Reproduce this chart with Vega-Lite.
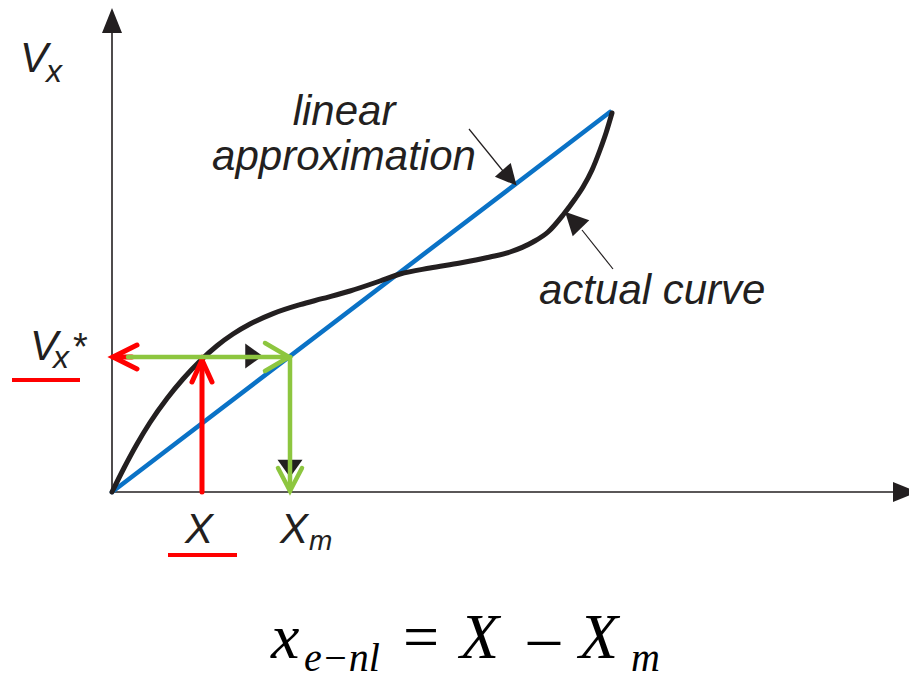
{
  "$schema": "https://vega.github.io/schema/vega-lite/v6.json",
  "width": 909,
  "height": 679,
  "padding": 0,
  "autosize": {"type": "none"},
  "background": "white",
  "config": {"view": {"stroke": null}},
  "datasets": {
    "axes": [
      {"seg": "y", "i": 0, "x": 0, "y": 0}, {"seg": "y", "i": 1, "x": 0, "y": 459},
      {"seg": "x", "i": 0, "x": 0, "y": 0}, {"seg": "x", "i": 1, "x": 783, "y": 0}
    ],
    "heads": [
      {"name": "yaxis", "x": 0, "y": 471.5},
      {"name": "xaxis", "x": 793.5, "y": 0},
      {"name": "linear", "x": 397.7, "y": 314.3},
      {"name": "actual", "x": 461, "y": 272},
      {"name": "hidden_right", "x": 142, "y": 136},
      {"name": "hidden_down", "x": 178, "y": 23.5}
    ],
    "linear": [
      {"x": 0, "y": 0}, {"x": 498, "y": 380}
    ],
    "curve": [
      {"x": 0, "y": 0}, {"x": 12, "y": 24}, {"x": 25, "y": 48}, {"x": 38, "y": 69.5},
      {"x": 55, "y": 93.5}, {"x": 71, "y": 113}, {"x": 88, "y": 131}, {"x": 105, "y": 146.3},
      {"x": 121, "y": 158}, {"x": 138, "y": 168}, {"x": 161, "y": 178.4}, {"x": 188, "y": 187.3},
      {"x": 210, "y": 193.3}, {"x": 238, "y": 201}, {"x": 268, "y": 211},
      {"x": 288, "y": 218}, {"x": 318, "y": 224}, {"x": 348, "y": 229}, {"x": 378, "y": 235},
      {"x": 398, "y": 240}, {"x": 421, "y": 250}, {"x": 436, "y": 260}, {"x": 451, "y": 277},
      {"x": 463, "y": 293}, {"x": 471, "y": 305}, {"x": 480, "y": 322}, {"x": 488, "y": 342},
      {"x": 494, "y": 359}, {"x": 500, "y": 379}
    ],
    "pointers": [
      {"seg": "linear", "i": 0, "x": 357, "y": 363}, {"seg": "linear", "i": 1, "x": 391, "y": 321},
      {"seg": "actual", "i": 0, "x": 501, "y": 223}, {"seg": "actual", "i": 1, "x": 470, "y": 262}
    ],
    "red": [
      {"seg": "h", "i": 0, "x": 1, "y": 135}, {"seg": "h", "i": 1, "x": 20, "y": 135},
      {"seg": "v", "i": 0, "x": 90, "y": 0}, {"seg": "v", "i": 1, "x": 90, "y": 132},
      {"seg": "cl", "i": 0, "x": 25, "y": 147}, {"seg": "cl", "i": 1, "x": 1, "y": 135}, {"seg": "cl", "i": 2, "x": 25, "y": 123},
      {"seg": "cu", "i": 0, "x": 80, "y": 110}, {"seg": "cu", "i": 1, "x": 90, "y": 132}, {"seg": "cu", "i": 2, "x": 100, "y": 110}
    ],
    "green": [
      {"seg": "h", "i": 0, "x": 16, "y": 135}, {"seg": "h", "i": 1, "x": 178, "y": 135},
      {"seg": "v", "i": 0, "x": 178, "y": 135}, {"seg": "v", "i": 1, "x": 178, "y": 1},
      {"seg": "cr", "i": 0, "x": 153, "y": 149}, {"seg": "cr", "i": 1, "x": 177, "y": 135}, {"seg": "cr", "i": 2, "x": 153, "y": 121},
      {"seg": "cd", "i": 0, "x": 166, "y": 24}, {"seg": "cd", "i": 1, "x": 178, "y": 1}, {"seg": "cd", "i": 2, "x": 190, "y": 24}
    ],
    "underlines": [
      {"seg": "vx", "i": 0, "x": -100, "y": 112}, {"seg": "vx", "i": 1, "x": -32, "y": 112},
      {"seg": "X", "i": 0, "x": 56, "y": -63}, {"seg": "X", "i": 1, "x": 125, "y": -63}
    ],
    "labels": [
      {"style": "main", "label": "V", "x": -92, "y": 420},
      {"style": "sub", "label": "x", "x": -66, "y": 410},
      {"style": "main", "label": "V", "x": -82, "y": 132},
      {"style": "sub", "label": "x", "x": -59, "y": 124},
      {"style": "star", "label": "*", "x": -39, "y": 132},
      {"style": "main", "label": "X", "x": 73, "y": -51},
      {"style": "main", "label": "X", "x": 168, "y": -51},
      {"style": "small", "label": "m", "x": 197, "y": -58},
      {"style": "main", "label": "actual curve", "x": 427, "y": 188},
      {"style": "center", "label": "linear", "x": 232, "y": 367},
      {"style": "center", "label": "approximation", "x": 232, "y": 322},
      {"style": "eqbig", "label": "x", "x": 159, "y": -166},
      {"style": "eqsub", "label": "e−nl", "x": 192, "y": -179},
      {"style": "eqop", "label": "=", "x": 291, "y": -166},
      {"style": "eqbig", "label": "X", "x": 348, "y": -166},
      {"style": "eqop", "label": "–", "x": 416, "y": -166},
      {"style": "eqbig", "label": "X", "x": 467, "y": -166},
      {"style": "eqsub", "label": "m", "x": 519, "y": -179}
    ]
  },
  "encoding": {
    "x": {"field": "x", "type": "quantitative", "scale": {"domain": [-112, 797], "nice": false, "zero": false}, "axis": null},
    "y": {"field": "y", "type": "quantitative", "scale": {"domain": [-187, 492], "nice": false, "zero": false}, "axis": null}
  },
  "layer": [
    {
      "data": {"name": "axes"},
      "mark": {"type": "line", "color": "#231f20", "strokeWidth": 1.6},
      "encoding": {"detail": {"field": "seg"}, "order": {"field": "i"}}
    },
    {
      "data": {"name": "heads"},
      "transform": [{"filter": "datum.name == 'yaxis'"}],
      "mark": {"type": "point", "shape": "M0,-1L0.8,1L-0.8,1Z", "size": 625, "filled": true, "color": "#231f20", "opacity": 1, "angle": 0}
    },
    {
      "data": {"name": "heads"},
      "transform": [{"filter": "datum.name == 'xaxis'"}],
      "mark": {"type": "point", "shape": "M0,-1L0.8,1L-0.8,1Z", "size": 625, "filled": true, "color": "#231f20", "opacity": 1, "angle": 90}
    },
    {
      "data": {"name": "linear"},
      "mark": {"type": "line", "color": "#0a72c6", "strokeWidth": 4.5, "strokeCap": "round"}
    },
    {
      "data": {"name": "curve"},
      "mark": {"type": "line", "color": "#231f20", "strokeWidth": 5, "interpolate": "monotone", "strokeCap": "round"}
    },
    {
      "data": {"name": "pointers"},
      "mark": {"type": "line", "color": "#231f20", "strokeWidth": 1.2},
      "encoding": {"detail": {"field": "seg"}, "order": {"field": "i"}}
    },
    {
      "data": {"name": "heads"},
      "transform": [{"filter": "datum.name == 'linear'"}],
      "mark": {"type": "point", "shape": "M0,-1L1,1L-1,1Z", "size": 441, "filled": true, "color": "#231f20", "opacity": 1, "angle": 139}
    },
    {
      "data": {"name": "heads"},
      "transform": [{"filter": "datum.name == 'actual'"}],
      "mark": {"type": "point", "shape": "M0,-1L1,1L-1,1Z", "size": 529, "filled": true, "color": "#231f20", "opacity": 1, "angle": 316}
    },
    {
      "data": {"name": "heads"},
      "transform": [{"filter": "datum.name == 'hidden_right'"}],
      "mark": {"type": "point", "shape": "M0,-0.7L1,0.7L-1,0.7Z", "size": 625, "filled": true, "color": "#231f20", "opacity": 1, "angle": 90}
    },
    {
      "data": {"name": "heads"},
      "transform": [{"filter": "datum.name == 'hidden_down'"}],
      "mark": {"type": "point", "shape": "M0,-0.7L1,0.7L-1,0.7Z", "size": 625, "filled": true, "color": "#231f20", "opacity": 1, "angle": 180}
    },
    {
      "data": {"name": "red"},
      "mark": {"type": "line", "color": "#ff0000", "strokeWidth": 5, "strokeCap": "round", "strokeJoin": "miter"},
      "encoding": {"detail": {"field": "seg"}, "order": {"field": "i"}}
    },
    {
      "data": {"name": "green"},
      "mark": {"type": "line", "color": "#8dc63f", "strokeWidth": 4.5, "strokeCap": "round", "strokeJoin": "miter"},
      "encoding": {"detail": {"field": "seg"}, "order": {"field": "i"}}
    },
    {
      "data": {"name": "underlines"},
      "mark": {"type": "line", "color": "#ff0000", "strokeWidth": 4},
      "encoding": {"detail": {"field": "seg"}, "order": {"field": "i"}}
    },
    {
      "data": {"name": "labels"},
      "transform": [{"filter": "datum.style == 'main'"}],
      "mark": {"type": "text", "font": "Liberation Sans", "fontStyle": "italic", "fontSize": 42, "align": "left", "baseline": "alphabetic", "color": "#231f20"},
      "encoding": {"text": {"field": "label"}}
    },
    {
      "data": {"name": "labels"},
      "transform": [{"filter": "datum.style == 'center'"}],
      "mark": {"type": "text", "font": "Liberation Sans", "fontStyle": "italic", "fontSize": 42, "align": "center", "baseline": "alphabetic", "color": "#231f20"},
      "encoding": {"text": {"field": "label"}}
    },
    {
      "data": {"name": "labels"},
      "transform": [{"filter": "datum.style == 'sub'"}],
      "mark": {"type": "text", "font": "Liberation Sans", "fontStyle": "italic", "fontSize": 32, "align": "left", "baseline": "alphabetic", "color": "#231f20"},
      "encoding": {"text": {"field": "label"}}
    },
    {
      "data": {"name": "labels"},
      "transform": [{"filter": "datum.style == 'star'"}],
      "mark": {"type": "text", "font": "Liberation Sans", "fontSize": 38, "align": "left", "baseline": "alphabetic", "color": "#231f20"},
      "encoding": {"text": {"field": "label"}}
    },
    {
      "data": {"name": "labels"},
      "transform": [{"filter": "datum.style == 'small'"}],
      "mark": {"type": "text", "font": "Liberation Sans", "fontStyle": "italic", "fontSize": 28, "align": "left", "baseline": "alphabetic", "color": "#231f20"},
      "encoding": {"text": {"field": "label"}}
    },
    {
      "data": {"name": "labels"},
      "transform": [{"filter": "datum.style == 'eqbig'"}],
      "mark": {"type": "text", "font": "Liberation Serif", "fontStyle": "italic", "fontSize": 64, "align": "left", "baseline": "alphabetic", "color": "#000000"},
      "encoding": {"text": {"field": "label"}}
    },
    {
      "data": {"name": "labels"},
      "transform": [{"filter": "datum.style == 'eqsub'"}],
      "mark": {"type": "text", "font": "Liberation Serif", "fontStyle": "italic", "fontSize": 40, "align": "left", "baseline": "alphabetic", "color": "#000000"},
      "encoding": {"text": {"field": "label"}}
    },
    {
      "data": {"name": "labels"},
      "transform": [{"filter": "datum.style == 'eqop'"}],
      "mark": {"type": "text", "font": "Liberation Serif", "fontSize": 64, "align": "left", "baseline": "alphabetic", "color": "#000000"},
      "encoding": {"text": {"field": "label"}}
    }
  ]
}
